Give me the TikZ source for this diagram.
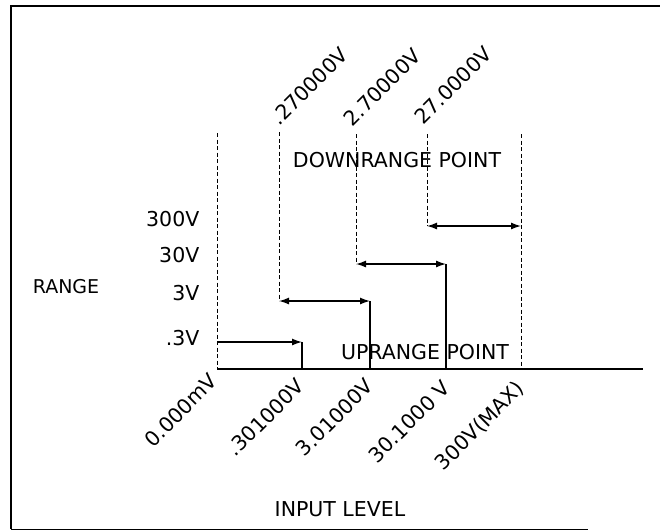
\documentclass[tikz,border=0pt]{standalone}
\usepackage{fontspec}
\setmainfont{DejaVu Sans}
\usetikzlibrary{arrows.meta}

\begin{document}
\begin{tikzpicture}[x=1pt, y=-1pt,
  lbl/.style={font=\fontsize{20.5}{24}\selectfont, inner sep=0pt},
  tilt/.style={lbl, rotate=45},
  dln/.style={dash pattern=on 4pt off 2.5pt, line width=1pt},
  frm/.style={line width=2pt},
  >={Latex[length=10pt,width=7pt]}, line width=1.3pt, color=black
]
\useasboundingbox (0,0) rectangle (660,531);

% frame
\coordinate (fTR) at (660,6);
\coordinate (fTL) at (11,6);
\coordinate (fBL) at (11,529);
\coordinate (fBR) at (588,529);
\draw[frm] (fTR) -- (fTL) -- (fBL);
\draw[line width=1pt] (fBL) -- (fBR);

% input axis and its points
\coordinate (o)  at (217,369);
\coordinate (ax) at (643,369);
\coordinate (t1) at (302,369);
\coordinate (t2) at (370,369);
\coordinate (t3) at (446,369);
\coordinate (t4) at (521,369);
\draw (o) -- (ax);

% downrange verticals
\coordinate (d0) at (217,133);
\coordinate (d1) at (279,132);
\coordinate (d2) at (356,134);
\coordinate (d3) at (427,134);
\coordinate (d4) at (521,134);
\coordinate (r0) at (217,342);
\coordinate (r1) at (279,301);
\coordinate (r2) at (356,264);
\coordinate (r3) at (427,226);
\coordinate (u0) at (302,342);
\coordinate (u1) at (370,301);
\coordinate (u2) at (446,264);
\coordinate (u3) at (521,226);

\draw[dln] (d0) -- (o);
\draw[dln] (d1) -- (r1);
\draw[dln] (d2) -- (r2);
\draw[dln] (d3) -- (r3);
\draw[dln] (d4) -- (t4);

% range steps
\draw[->]  (r0) -- (u0);
\draw      (u0) -- (t1);
\draw[<->] (r1) -- (u1);
\draw      (u1) -- (t2);
\draw[<->] (r2) -- (u2);
\draw      (u2) -- (t3);
\draw[<->] (r3) -- (u3);

% range labels
\node[lbl, font=\fontsize{19}{22}\selectfont] (range) at (66,287) {RANGE};
\node[lbl, anchor=east] (g300) at (200,219) {300V};
\node[lbl, anchor=east] (g30)  at (200,255) {30V};
\node[lbl, anchor=east] (g3)   at (200,293) {3V};
\node[lbl, anchor=east] (g03)  at (200,338) {.3V};

\node[lbl] (down) at (397,160) {DOWNRANGE POINT};
\node[lbl] (up)   at (425,352) {UPRANGE POINT};
\node[lbl] (inp)  at (340,509) {INPUT LEVEL};

% downrange values
\node[tilt, anchor=base west] (v1) at (279,127) {.270000V};
\node[tilt, anchor=base west] (v2) at (352,128) {2.70000V};
\node[tilt, anchor=base west] (v3) at (423,126) {27.0000V};

% uprange values
\node[tilt, anchor=east] (w0) at (214,377) {0.000mV};
\node[tilt, anchor=east] (w1) at (301,382) {.301000V};
\node[tilt, anchor=east] (w2) at (370,382) {3.01000V};
\node[tilt, anchor=east] (w3) at (447,384) {30.1000 V};
\node[tilt, anchor=east] (w4) at (521,385) {300V(MAX)};
\end{tikzpicture}
\end{document}
